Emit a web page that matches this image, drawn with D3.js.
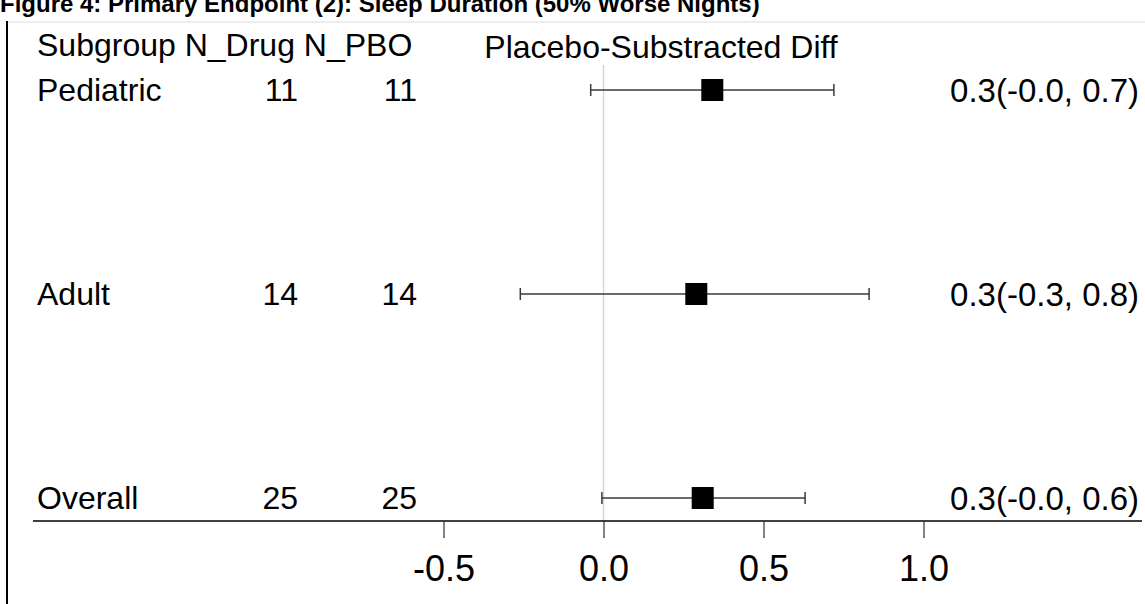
<!DOCTYPE html>
<html>
<head>
<meta charset="utf-8">
<script src="https://cdn.jsdelivr.net/npm/d3@7"></script>
<style>
  body { margin: 0; background: #fff; }
  svg { display: block; font-family: "Liberation Sans", Arial, sans-serif; }
</style>
</head>
<body>
<svg id="chart"></svg>
<script>
const width = 1145;
const height = 604;

// Data.
const subgroups = ["Pediatric", "Adult", "Overall"];
const nDrug = [11, 14, 25];
const nPbo = [11, 14, 25];
const estimates = [0.34, 0.29, 0.31];
const lowers = [-0.04, -0.26, -0.005];
const uppers = [0.72, 0.83, 0.63];
const ciLabels = ["0.3(-0.0, 0.7)", "0.3(-0.3, 0.8)", "0.3(-0.0, 0.6)"];
const tickValues = [-0.5, 0.0, 0.5, 1.0];

const rows = subgroups.map((s, i) => ({
  name: s, nd: nDrug[i], np: nPbo[i],
  est: estimates[i], lo: lowers[i], hi: uppers[i], label: ciLabels[i]
}));

const svg = d3.select("#chart")
    .attr("width", width)
    .attr("height", height);

// x scale: 0 at 603.5px, 1 unit = 320px
const x = d3.scaleLinear().domain([0, 1]).range([603.5, 923.5]);
// row positions
const y = d3.scalePoint().domain(subgroups).range([90, 498]);

const axisY = 521;
const fontSize = 32;

// Title (cut off at the top in the original)
svg.append("text")
    .attr("x", 0)
    .attr("y", 12)
    .attr("font-size", 24)
    .attr("font-weight", "bold")
    .text("Figure 4: Primary Endpoint (2): Sleep Duration (50% Worse Nights)");

// Frame
svg.append("line")
    .attr("x1", 7).attr("x2", width)
    .attr("y1", 22).attr("y2", 22)
    .attr("stroke", "#dcdcdc");
svg.append("line")
    .attr("x1", 7).attr("x2", 7)
    .attr("y1", 21).attr("y2", height)
    .attr("stroke", "#000")
    .attr("stroke-width", 2);

// Reference line at zero
svg.append("line")
    .attr("x1", x(0)).attr("x2", x(0))
    .attr("y1", 65).attr("y2", axisY)
    .attr("stroke", "#d6d6d6")
    .attr("stroke-width", 1.5);

// Column headers
svg.append("text")
    .attr("x", 37).attr("y", 56)
    .attr("font-size", fontSize)
    .text("Subgroup N_Drug N_PBO");
svg.append("text")
    .attr("x", 661).attr("y", 58)
    .attr("text-anchor", "middle")
    .attr("font-size", fontSize)
    .text("Placebo-Substracted Diff");

// One group per subgroup row
const rowG = svg.append("g")
    .selectAll("g")
    .data(rows)
    .join("g")
    .attr("transform", d => `translate(0,${y(d.name)})`)
    .attr("font-size", fontSize);

rowG.append("text")
    .attr("x", 37).attr("dy", "0.35em")
    .text(d => d.name);
rowG.append("text")
    .attr("x", 298).attr("dy", "0.35em")
    .attr("text-anchor", "end")
    .text(d => d.nd);
rowG.append("text")
    .attr("x", 417).attr("dy", "0.35em")
    .attr("text-anchor", "end")
    .text(d => d.np);
rowG.append("text")
    .attr("x", 1139).attr("dy", "0.35em")
    .attr("text-anchor", "end")
    .attr("font-size", 33)
    .text(d => d.label);

// Error bars
const cap = 6;
const whisker = "#3a3a3a";
rowG.append("line")
    .attr("x1", d => x(d.lo)).attr("x2", d => x(d.hi))
    .attr("stroke", whisker)
    .attr("stroke-width", 1.5);
rowG.append("line")
    .attr("x1", d => x(d.lo)).attr("x2", d => x(d.lo))
    .attr("y1", -cap).attr("y2", cap)
    .attr("stroke", whisker)
    .attr("stroke-width", 1.5);
rowG.append("line")
    .attr("x1", d => x(d.hi)).attr("x2", d => x(d.hi))
    .attr("y1", -cap).attr("y2", cap)
    .attr("stroke", whisker)
    .attr("stroke-width", 1.5);

// Point estimate squares
const box = 22;
rowG.append("rect")
    .attr("x", d => x(d.est) - box / 2)
    .attr("y", -box / 2)
    .attr("width", box)
    .attr("height", box)
    .attr("fill", "#000");

// Axis line spanning the panel
svg.append("line")
    .attr("x1", 33).attr("x2", 1142)
    .attr("y1", axisY).attr("y2", axisY)
    .attr("stroke", "#000")
    .attr("stroke-width", 1.5);

// Ticks and labels from the scale
const axis = d3.axisBottom(x)
    .tickValues(tickValues)
    .tickFormat(d => d3.format(".1f")(d).replace("−", "-"))
    .tickSize(17)
    .tickPadding(17);

const gAxis = svg.append("g")
    .attr("transform", `translate(0,${axisY})`)
    .call(axis);
gAxis.select(".domain").remove();
gAxis.selectAll(".tick line").attr("stroke", "#333").attr("stroke-width", 1.2);
gAxis.selectAll(".tick text")
    .attr("font-size", 36)
    .attr("font-family", "Liberation Sans, Arial, sans-serif")
    .attr("fill", "#000");
</script>
</body>
</html>
